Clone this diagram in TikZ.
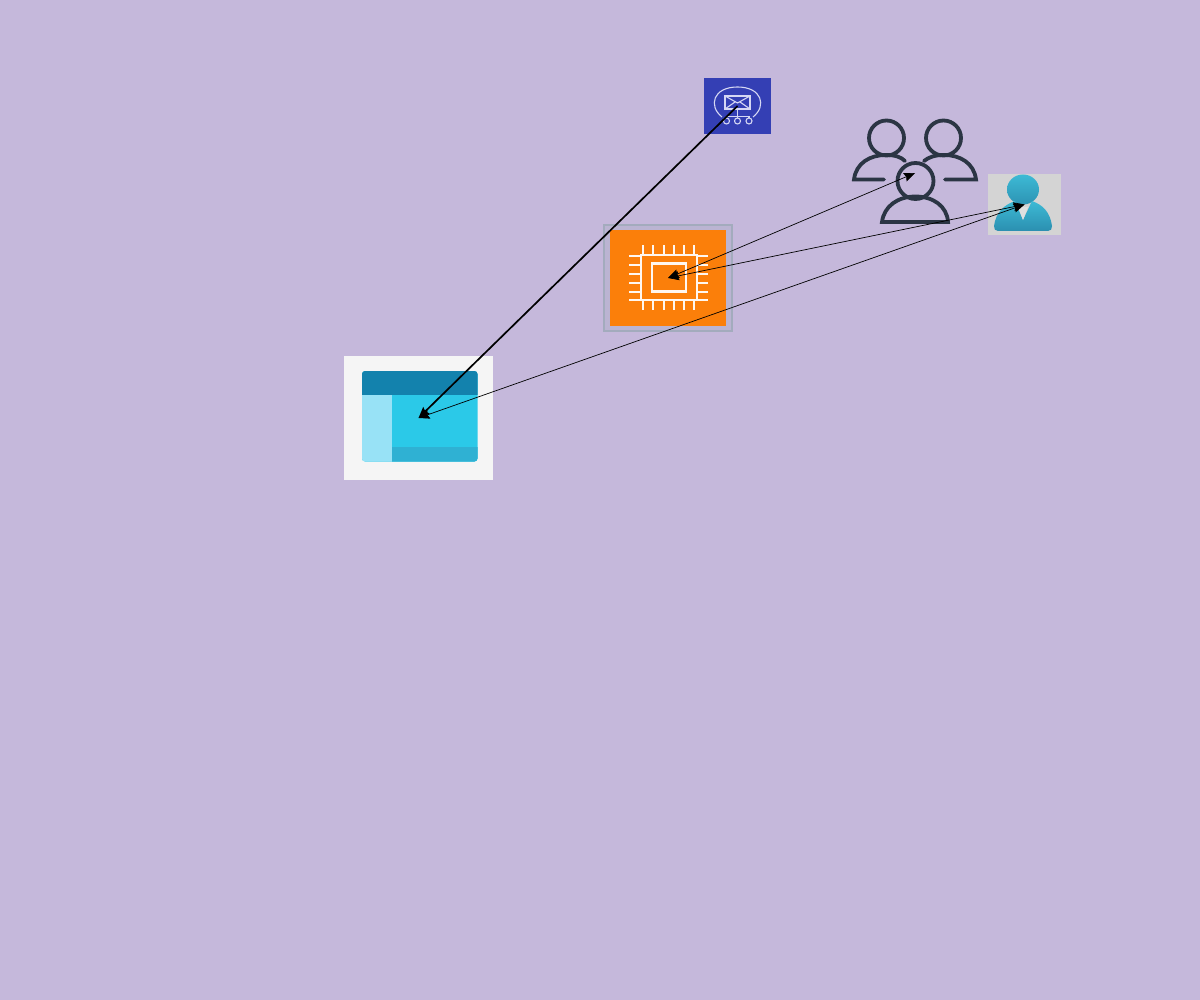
\documentclass[tikz,border=0pt]{standalone}
\usetikzlibrary{arrows.meta}

\definecolor{canvas}{HTML}{C5B8DB}
\definecolor{topicblue}{HTML}{343FB4}
\definecolor{topicline}{HTML}{D5D7F4}
\definecolor{cpuframe}{HTML}{A3ABBD}
\definecolor{cpuorange}{HTML}{FB7F0A}
\definecolor{groupdark}{HTML}{2B3544}
\definecolor{persontop}{HTML}{3DBAD5}
\definecolor{personlow}{HTML}{2B8FB0}
\definecolor{storeheader}{HTML}{1382AD}
\definecolor{storepale}{HTML}{98E2F6}
\definecolor{storemain}{HTML}{2BC9E8}
\definecolor{storeband}{HTML}{2FB1D3}

\tikzstyle{box} = [rectangle, inner sep=0pt, outer sep=0pt]
\tikzstyle{topic_box} = [box, minimum width=67pt, minimum height=56pt, fill=topicblue]
\tikzstyle{cpu_box} = [box, minimum width=128pt, minimum height=106pt, fill=canvas!70!cpuframe, draw=cpuframe, line width=1.5pt]
\tikzstyle{group_box} = [box, minimum width=124pt, minimum height=104pt]
\tikzstyle{person_box} = [box, minimum width=73pt, minimum height=61pt, fill=black!17]
\tikzstyle{store_box} = [box, minimum width=149pt, minimum height=124pt, fill=black!4]
\tikzstyle{arrow} = [line width=0.7pt,->,>={Stealth[length=11pt,width=9pt,inset=1.5pt]}]
\tikzstyle{thick_arrow} = [line width=1.7pt,->,>={Stealth[length=11pt,width=9pt,inset=1.5pt]}]
\tikzstyle{topic_line} = [topicline, line width=1.1pt]
\tikzstyle{pin} = [white!94!cpuorange, line width=2.8pt]
\tikzstyle{group_line} = [groupdark, line width=3.8pt, line cap=round]

\begin{document}
\begin{tikzpicture}[x=1pt, y=-1pt]
    \useasboundingbox (0,0) rectangle (1200,1000);
    \fill [canvas] (0,0) rectangle (1200,1000);

    % Nodes
    \node (topic) [topic_box] at (737.5,106) {};
    \node (cpu) [cpu_box] at (668,278) {};
    \node (users) [group_box] at (915,173) {};
    \node (person) [person_box] at (1024.5,204.5) {};
    \node (storage) [store_box] at (418.5,418) {};

    % Topic icon
    \draw [topic_line] (722,117) .. controls (708,106) and (713,87) .. (737.5,87) .. controls (762,87) and (767,106) .. (753,117);
    \draw [topic_line] (725,96) rectangle (750,109);
    \draw [topic_line] (725,96) -- (737.5,103) -- (750,96);
    \draw [topic_line] (725,109) -- (735,102);
    \draw [topic_line] (750,109) -- (740,102);
    \draw [topic_line] (737.5,109) -- (737.5,118);
    \draw [topic_line] (726.5,118) -- (726.5,116.5) -- (749,116.5) -- (749,118);
    \draw [topic_line] (726.5,121) circle (3);
    \draw [topic_line] (737.5,121) circle (3);
    \draw [topic_line] (749,121) circle (3);

    % CPU icon
    \fill [cpuorange] (610,230) rectangle (726,326);
    \draw [pin] (641,255) rectangle (697,300);
    \draw [pin] (652,263.5) rectangle (686,291.5);
    \draw [pin] (643,255) -- (643,245) (653,255) -- (653,245) (664,255) -- (664,245) (674,255) -- (674,245) (684,255) -- (684,245) (694,255) -- (694,245);
    \draw [pin] (643,300) -- (643,310) (653,300) -- (653,310) (664,300) -- (664,310) (674,300) -- (674,310) (684,300) -- (684,310) (694,300) -- (694,310);
    \draw [pin] (641,256) -- (629,256) (641,265) -- (629,265) (641,274) -- (629,274) (641,283) -- (629,283) (641,292) -- (629,292) (641,300) -- (629,300);
    \draw [pin] (697,256) -- (708,256) (697,265) -- (708,265) (697,274) -- (708,274) (697,283) -- (708,283) (697,292) -- (708,292) (697,300) -- (708,300);

    % Users icon
    \draw [group_line] (886.5,138) circle (17.5);
    \draw [group_line] (943.5,138) circle (17.5);
    \draw [group_line] (884,179.5) -- (854,179.5) .. controls (856,163) and (870,155) .. (886,155) .. controls (895,155) and (901,157) .. (905,161);
    \draw [group_line] (945,179.5) -- (976,179.5) .. controls (974,163) and (960,155) .. (944,155) .. controls (935,155) and (929,157) .. (924,161);
    \draw [group_line] (915.5,181) circle (18);
    \draw [group_line] (882,222) .. controls (884,206) and (898,196.5) .. (915.5,196.5) .. controls (933,196.5) and (947,206) .. (948,222) -- cycle;

    % Person icon
    \shade [top color=persontop, bottom color=personlow!90!persontop] (1023,189.5) ellipse (16 and 15);
    \shade [top color=persontop, bottom color=personlow] (994,226) .. controls (996,212) and (1004,205) .. (1015,201) -- (1023,220) -- (1032,201) .. controls (1043,205) and (1050,212) .. (1052,226) .. controls (1052,229) and (1051,231) .. (1048,231) -- (998,231) .. controls (995,231) and (994,229) .. (994,226) -- cycle;
    \fill [black!12] (1018,207) -- (1028,207) -- (1023,220) -- cycle;

    % Storage icon
    \begin{scope}
        \clip [rounded corners=3pt] (362,371) rectangle (477.5,461.5);
        \fill [storemain] (362,371) rectangle (477.5,461.5);
        \fill [storeband] (392,446.5) rectangle (477.5,461.5);
        \fill [storepale] (362,394.5) rectangle (392,461.5);
        \fill [storeheader] (362,371) rectangle (477.5,394.5);
    \end{scope}

    % Arrows
    \draw [thick_arrow] (topic.center) -- (storage.center);
    \draw [arrow, <->] (cpu.center) -- (users.center);
    \draw [arrow, <->] (cpu.center) -- (person.center);
    \draw [arrow, <->] (storage.center) -- (person.center);

\end{tikzpicture}
\end{document}
